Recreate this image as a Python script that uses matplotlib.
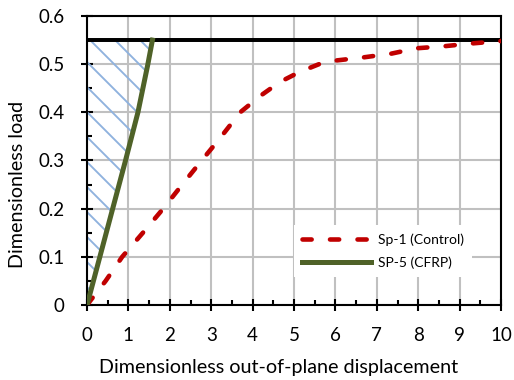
import matplotlib
matplotlib.use("Agg")
import matplotlib.pyplot as plt
from matplotlib.ticker import MultipleLocator

plt.rcParams['font.family'] = ['Lato', 'DejaVu Sans']
plt.rcParams['hatch.linewidth'] = 0.9

# Sp-1 (control specimen): load vs out-of-plane displacement
sp1_disp = [0.0, 0.45, 0.85, 1.35, 1.84, 2.3, 2.77, 3.2, 3.7, 4.2, 4.66, 5.14,
            5.75, 6.67, 7.36, 7.96, 8.6, 9.29, 10.0]
sp1_load = [0.0, 0.05, 0.10, 0.15, 0.20, 0.25, 0.30, 0.345, 0.40, 0.435, 0.463,
            0.484, 0.505, 0.514, 0.522, 0.533, 0.537, 0.543, 0.548]

# SP-5 (CFRP strengthened specimen)
sp5_disp = [0.0, 0.31, 0.62, 0.93, 1.23, 1.47, 1.58]
sp5_load = [0.0, 0.10, 0.20, 0.30, 0.40, 0.50, 0.55]

load_limit = 0.55

x_ticks = list(range(0, 11))
y_ticks = [0, 0.1, 0.2, 0.3, 0.4, 0.5, 0.6]
y_tick_labels = ['0', '0.1', '0.2', '0.3', '0.4', '0.5', '0.6']

fig = plt.figure(figsize=(514 / 150, 380 / 150), dpi=150)
ax = fig.add_axes([0.1693, 0.1974, 0.8054, 0.7605])

ax.set_xlim(0, 10)
ax.set_ylim(0, 0.6)
ax.set_xticks(x_ticks)
ax.set_yticks(y_ticks)
ax.set_yticklabels(y_tick_labels)
ax.xaxis.set_minor_locator(MultipleLocator(0.5))
ax.yaxis.set_minor_locator(MultipleLocator(0.05))

ax.grid(True, which='major', color='#C0C0C0', linewidth=1.0, zorder=0)
ax.set_axisbelow(True)

# hatched region between the load axis and the SP-5 curve
ax.fill_betweenx(sp5_load, 0, sp5_disp, facecolor='none', edgecolor='#8FB2DE',
                 hatch='\\\\', linewidth=0, zorder=1)

ax.axhline(load_limit, color='black', linewidth=1.9, zorder=3)

ax.plot(sp1_disp, sp1_load, color='#C00000', linewidth=2.2,
        linestyle=(0, (2.0, 4.0)), dash_capstyle='round',
        label='Sp-1 (Control)', zorder=4)
ax.plot(sp5_disp, sp5_load, color='#4F6228', linewidth=2.4,
        label='SP-5 (CFRP)', zorder=5)

for s in ax.spines.values():
    s.set_linewidth(1.0)
    s.set_color('black')

ax.tick_params(which='major', direction='inout', length=5.5, width=1.0,
               labelsize=9.0, colors='black')
ax.tick_params(axis='x', which='major', pad=8.0)
ax.tick_params(axis='y', which='major', pad=8.0)
ax.tick_params(which='minor', direction='in', length=2.5, width=1.0)

ax.set_xlabel('Dimensionless out-of-plane displacement', fontsize=9.5, va='center')
ax.xaxis.set_label_coords(0.4626, -0.216)
ax.set_ylabel('Dimensionless load', fontsize=9.5, va='center', ha='center')
ax.yaxis.set_label_coords(-0.169, 0.4187)

leg = ax.legend(loc='upper left', bbox_to_anchor=(0.499, 0.277), fontsize=6.7,
                frameon=True, fancybox=False, framealpha=1, edgecolor='none',
                facecolor='white', handlelength=4.95, handletextpad=0.5,
                labelspacing=0.75, borderpad=0.6, borderaxespad=0)
leg.set_zorder(6)

fig.savefig('out.png', dpi=150)
